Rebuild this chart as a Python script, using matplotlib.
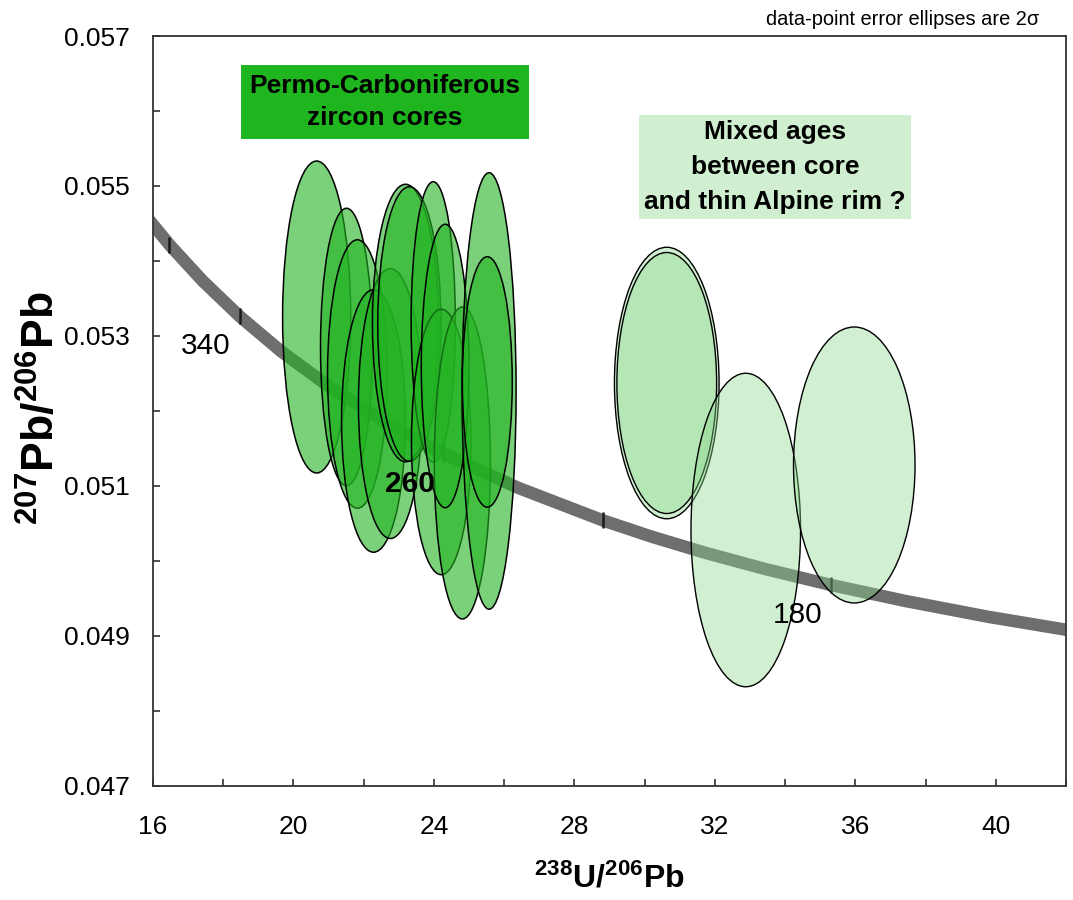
import matplotlib
matplotlib.use('Agg')
import matplotlib.pyplot as plt
from matplotlib.patches import Ellipse
from matplotlib.ticker import MultipleLocator, FixedLocator, FuncFormatter

plt.rcParams['font.family'] = ['Liberation Sans', 'DejaVu Sans']
plt.rcParams['mathtext.fontset'] = 'custom'
plt.rcParams['mathtext.rm'] = 'Liberation Sans'
plt.rcParams['mathtext.bf'] = 'Liberation Sans:bold'

# concordia curve (age in Ma, 238U/206Pb, 207Pb/206Pb)
conc_age = [400, 380, 360, 340, 320, 300, 280, 260, 240, 220, 210, 200, 190, 180, 170, 160, 150, 140]
conc_x = [15.621, 16.469, 17.411, 18.465, 19.649, 20.992, 22.527, 24.297, 26.363,
          28.805, 30.200, 31.735, 33.431, 35.316, 37.422, 39.792, 42.478, 45.548]
conc_y = [0.054700, 0.054216, 0.053736, 0.053263, 0.052795, 0.052333, 0.051877, 0.051427,
          0.050982, 0.050542, 0.050324, 0.050108, 0.049893, 0.049679, 0.049467, 0.049255,
          0.049046, 0.048837]
tick_ages = [380, 340, 300, 260, 220, 180]
label_ages = [340, 260, 180]

# Permo-Carboniferous zircon cores: centre and 2-sigma half axes
core_x = [20.66, 21.51, 21.82, 22.28, 22.76, 23.19, 23.30, 23.98, 24.21, 24.81, 24.32, 25.57, 25.52]
core_y = [0.053253, 0.052853, 0.052493, 0.051867, 0.052100, 0.053173, 0.053160, 0.053187,
          0.051587, 0.051307, 0.052600, 0.052267, 0.052387]
core_sx = [0.97, 0.74, 0.85, 0.91, 0.91, 0.94, 0.90, 0.63, 0.85, 0.80, 0.68, 0.77, 0.71]
core_sy = [0.00208, 0.00185, 0.00179, 0.00175, 0.00180, 0.00185, 0.00183, 0.00187,
           0.00177, 0.00208, 0.00189, 0.00291, 0.00167]

# mixed ages (core + thin Alpine rim)
rim_x = [30.63, 30.63, 32.88, 35.97]
rim_y = [0.052373, 0.052373, 0.050413, 0.051280]
rim_sx = [1.49, 1.42, 1.56, 1.73]
rim_sy = [0.00181, 0.00174, 0.00209, 0.00184]

fig = plt.figure(figsize=(10.73, 9.0), dpi=100)
ax = fig.add_axes([0.1426, 0.1267, 0.8509, 0.8333])

ax.plot(conc_x, conc_y, color='#6e6e6e', linewidth=9, solid_capstyle='butt', zorder=1)
tx = [conc_x[conc_age.index(a)] for a in tick_ages]
ty = [conc_y[conc_age.index(a)] for a in tick_ages]
ax.plot(tx, ty, linestyle='none', marker='|', markersize=11, markeredgewidth=1.8,
        color='#1a1a1a', zorder=2)

for x, y, sx, sy in zip(core_x, core_y, core_sx, core_sy):
    ax.add_patch(Ellipse((x, y), 2 * sx, 2 * sy, facecolor=(0.13, 0.70, 0.13, 0.6),
                         edgecolor='black', linewidth=1.1, zorder=3))
for x, y, sx, sy in zip(rim_x, rim_y, rim_sx, rim_sy):
    ax.add_patch(Ellipse((x, y), 2 * sx, 2 * sy, facecolor=(0.55, 0.85, 0.55, 0.4),
                         edgecolor='black', linewidth=1.0, zorder=3))

for a in label_ages:
    i = conc_age.index(a)
    ax.annotate(str(a), (conc_x[i], conc_y[i]), xytext=(-34, -30), textcoords='offset pixels',
                ha='center', va='center', fontsize=21.5,
                fontweight='bold' if a == 260 else 'normal', zorder=5)

ax.set_xlim(16, 42)
ax.set_ylim(0.047, 0.057)
ax.xaxis.set_major_locator(FixedLocator([16, 20, 24, 28, 32, 36, 40]))
ax.xaxis.set_minor_locator(MultipleLocator(2))
ax.yaxis.set_major_locator(FixedLocator([0.047, 0.049, 0.051, 0.053, 0.055, 0.057]))
ax.yaxis.set_minor_locator(MultipleLocator(0.001))
ax.yaxis.set_major_formatter(FuncFormatter(lambda v, p: f'{v:.3f}'))
ax.tick_params(which='both', direction='in', length=5, width=1.2, color='#333333',
               labelsize=19, top=False, right=False)
ax.tick_params(axis='x', pad=21)
ax.tick_params(axis='y', pad=16.5)
for s in ax.spines.values():
    s.set_color('#333333')
    s.set_linewidth(1.3)

ax.set_xlabel(r'$\mathbf{^{238}U/^{206}Pb}$', fontsize=23, labelpad=17)
ax.set_ylabel(r'$\mathbf{^{207}Pb/^{206}Pb}$', fontsize=32, va='center')
ax.yaxis.set_label_coords(-0.122, 0.504)

ax.text(0.254, 0.912, 'Permo-Carboniferous\nzircon cores', transform=ax.transAxes,
        ha='center', va='center', fontsize=19, fontweight='bold', linespacing=1.42,
        bbox=dict(boxstyle='square,pad=0.33', facecolor='#1fb51f', edgecolor='none'), zorder=6)
ax.text(0.681, 0.8253, 'Mixed ages\nbetween core\nand thin Alpine rim ?', transform=ax.transAxes,
        ha='center', va='center', fontsize=19, fontweight='bold', linespacing=1.56,
        bbox=dict(boxstyle='square,pad=0.2', facecolor='#d0efd0', edgecolor='none'), zorder=6)
fig.text(0.969, 0.978, 'data-point error ellipses are 2\u03c3', ha='right', va='center', fontsize=14.4)

fig.savefig('out.png', dpi=100)
